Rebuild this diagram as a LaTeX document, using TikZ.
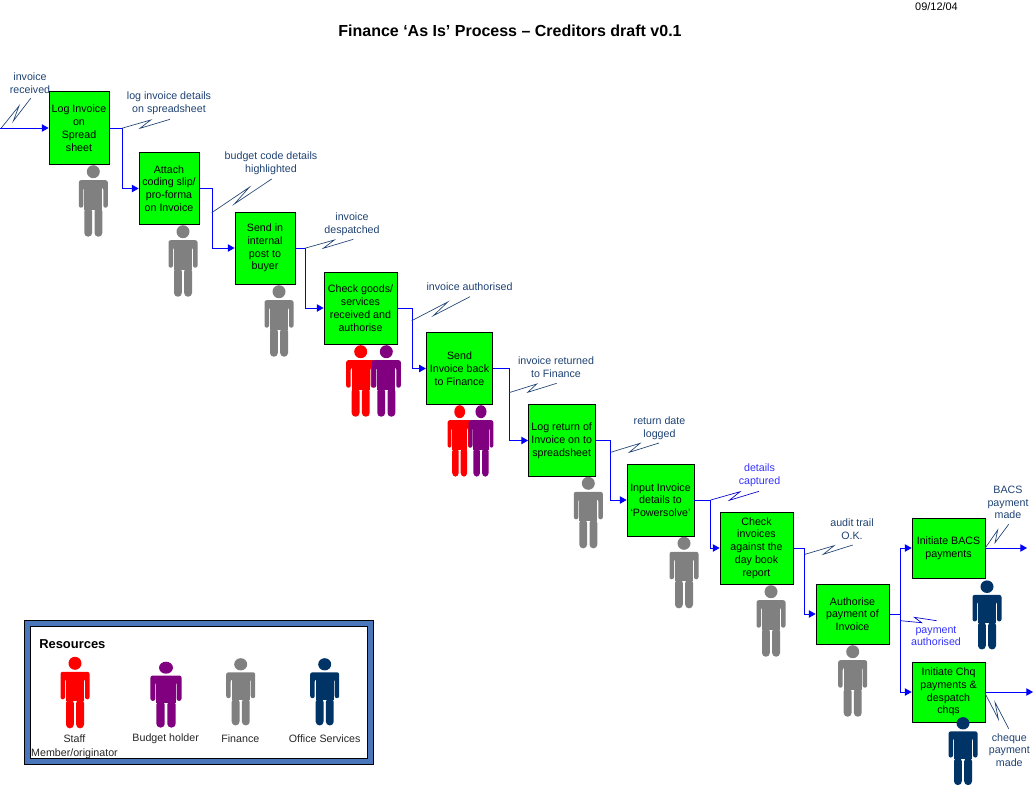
\documentclass[tikz,border=0pt]{standalone}
\usepackage{fontspec}
\setmainfont{Liberation Sans}
\usetikzlibrary{arrows.meta}
\definecolor{boxgreen}{HTML}{00FF00}
\definecolor{flowblue}{HTML}{0000FF}
\definecolor{labnavy}{HTML}{1F4273}
\definecolor{labblue}{HTML}{3333FF}
\definecolor{navyfig}{HTML}{003366}
\definecolor{purplefig}{HTML}{800080}
\definecolor{greyfig}{HTML}{808080}
\definecolor{framefill}{HTML}{4A76BC}
\tikzset{
  stepbox/.style n args={2}{draw=black,line width=.6pt,fill=boxgreen,inner sep=0pt,align=center,
     font=\fontsize{8}{9.6}\selectfont,text=black,minimum width=#1*.75pt,minimum height=#2*.75pt},
  conn/.style={draw=flowblue,line width=.65pt,-{Triangle[length=5pt,width=5.5pt]}},
  bolt/.style={draw=labnavy,line width=.5pt},
  boltb/.style={draw=flowblue!80!black,line width=.5pt},
  lab/.style={inner sep=0pt,align=center,text=labnavy,font=\fontsize{8}{9.6}\selectfont},
  labb/.style={lab,text=labblue},
  leg/.style={inner sep=0pt,align=center,text=black!85,font=\fontsize{8}{10.2}\selectfont},
  pics/person/.style={code={
    \fill[#1] (0,0) circle[radius=6.5];
    \fill[#1,rounded corners=1.6pt] (-14.5,36) -- (-14.5,8.5) -- (14.5,8.5) -- (14.5,36) -- (10,36) -- (10,16) -- (-10,16) -- (-10,36) -- cycle;
    \fill[#1] (-9,15) rectangle (9,38);
    \fill[#1,rounded corners=2.8pt] (-9,36) -- (-9,65) -- (-1.2,65) -- (-1.2,36) -- cycle;
    \fill[#1,rounded corners=2.8pt] (1.2,36) -- (1.2,65) -- (9,65) -- (9,36) -- cycle;
  }}
}
\begin{document}
\begin{tikzpicture}[x=.75pt,y=-.75pt]
\useasboundingbox (0,0) rectangle (1034,786);
% title
\node[inner sep=0pt,font=\bfseries\fontsize{12}{14}\selectfont] (title) at (510,31) {Finance ‘As Is’ Process – Creditors draft v0.1};
\node[inner sep=0pt,font=\fontsize{8.2}{10}\selectfont] (date) at (936.5,7) {09/12/04};
% legend frame
\node[draw=black,line width=.75pt,fill=framefill,inner sep=0pt,minimum width=348.7*.75pt,minimum height=144.4*.75pt] (outer) at (198.65,692.5) {};
\node[draw=black,line width=.7pt,fill=white,inner sep=0pt,minimum width=336.7*.75pt,minimum height=132.7*.75pt] (inner) at (198.65,692.35) {};
\node[anchor=west,inner sep=0pt,font=\bfseries\fontsize{9.7}{11}\selectfont] (restitle) at (39,644) {Resources};
% boxes
\node[stepbox={60}{72.5}] (b1) at (79,128) {Log Invoice\\on\\Spread\\sheet};
\node[stepbox={60}{72}] (b2) at (169,188.5) {Attach\\coding slip/\\pro-forma\\on Invoice};
\node[stepbox={60}{72}] (b3) at (265,248) {Send in\\internal\\post to\\buyer};
\node[stepbox={73}{72}] (b4) at (360.5,308) {Check goods/\\services\\received and\\authorise};
\node[stepbox={66.5}{72}] (b5) at (459.5,368.5) {Send\\Invoice back\\to Finance};
\node[stepbox={66.5}{72}] (b6) at (561.7,440.5) {Log return of\\Invoice on to\\spreadsheet};
\node[stepbox={67}{72}] (b7) at (660.5,500) {Input Invoice\\details to\\‘Powersolve’};
\node[stepbox={73}{72}] (b8) at (756.5,548) {Check\\invoices\\against the\\day book\\report};
\node[stepbox={73}{60}] (b9) at (852.5,614) {Authorise\\payment of\\Invoice};
\node[stepbox={73}{60}] (b10) at (948.5,548) {Initiate BACS\\payments};
\node[stepbox={73}{60}] (b11) at (948.5,692) {Initiate Chq\\payments \&\\despatch\\chqs};
% free ends
\coordinate (in) at (0,128);
\coordinate (outa) at (1027,548);
\coordinate (outb) at (1033,692);
% connectors
\draw[conn] (in) -- (b1.west);
\draw[conn] (b1.east) -- ++(12.7,0) |- (b2.west);
\draw[conn] (b2.east) -- ++(12.7,0) |- (b3.west);
\draw[conn] (b3.east) -- ++(9.7,0) |- (b4.west);
\draw[conn] (b4.east) -- ++(14.7,0) |- (b5.west);
\draw[conn] (b5.east) -- ++(16,0) |- (b6.west);
\draw[conn] (b6.east) -- ++(15.3,0) |- (b7.west);
\draw[conn] (b7.east) -- ++(16.3,0) |- (b8.west);
\draw[conn] (b8.east) -- ++(11.3,0) |- (b9.west);
\draw[conn] (b9.east) -- ++(11.3,0) |- (b10.west);
\draw[conn] (b9.east) -- ++(11.3,0) |- (b11.west);
\draw[conn] (b10.east) -- (outa);
\draw[conn] (b11.east) -- (outb);
% bolts
\draw[bolt] (1,128.3) -- (19,106) -- (13.3,121) -- (30.7,98.3);
\draw[bolt] (121.7,128.3) -- (150.7,120) -- (140,128.3) -- (170,119.3);
\draw[bolt] (211.7,212.7) -- (249.3,187.3) -- (234.3,204) -- (271.7,179);
\draw[bolt] (304.7,248.3) -- (334.3,240) -- (323.3,248.3) -- (353.3,239.3);
\draw[bolt] (411.7,320.7) -- (447.7,302) -- (433.3,315.7) -- (470,296.7);
\draw[bolt] (509,392.7) -- (536.7,384) -- (527.7,392.3) -- (556.7,383.3);
\draw[bolt] (610.7,452.3) -- (640,443.3) -- (629.3,452.3) -- (659,443);
\draw[boltb] (710.7,500) -- (740,491.7) -- (729.3,500.3) -- (759,491.3);
\draw[bolt] (805,554.3) -- (834,545.7) -- (823.3,554.3) -- (852.7,545);
\draw[boltb] (900.7,620.7) -- (921.7,622.7) -- (914.3,617.3) -- (936.7,620.7);
\draw[bolt] (985,548.3) -- (997.7,530) -- (995,542.7) -- (1008.7,524.3);
\draw[bolt] (985,693.3) -- (998.3,719) -- (995,702.3) -- (1008.7,728.7);
% labels
\node[lab] (l0) at (30,82.8) {invoice\\received};
\node[lab] (l1) at (169,103) {log invoice details\\on spreadsheet};
\node[lab] (l2) at (271,163) {budget code details\\highlighted};
\node[lab] (l3) at (352,224) {invoice\\despatched};
\node[lab] (l4) at (469.5,286.7) {invoice authorised};
\node[lab] (l5) at (556,367.5) {invoice returned\\to Finance};
\node[lab] (l6) at (659.5,428) {return date\\logged};
\node[labb] (l7) at (759.5,475.5) {details\\captured};
\node[lab] (l8) at (852,529.5) {audit trail\\O.K.};
\node[lab] (l9) at (1008,502.5) {BACS\\payment\\made};
\node[labb] (l10) at (936,636) {payment\\authorised};
\node[lab] (l11) at (1009.3,750) {cheque\\payment\\made};
% people
\pic at (93.3,171.7) {person=greyfig};
\pic at (183,231.7) {person=greyfig};
\pic at (279,291.7) {person=greyfig};
\pic at (360.7,351.7) {person=red};
\pic at (386.3,351.7) {person=purplefig};
\pic[xscale=.83] at (459.7,411.7) {person=red};
\pic[xscale=.85] at (481,411.7) {person=purplefig};
\pic at (588.3,483.3) {person=greyfig};
\pic at (684,543.3) {person=greyfig};
\pic at (771,591.7) {person=greyfig};
\pic at (852.7,651.7) {person=greyfig};
\pic[yscale=.965] at (987,586.7) {person=navyfig};
\pic[yscale=.95] at (963,723.3) {person=navyfig};
% legend
\pic at (75,663.3) {person=red};
\pic[xscale=1.07,yscale=.92] at (166,667.7) {person=purplefig};
\pic[yscale=.94] at (240.7,664.3) {person=greyfig};
\pic[yscale=.94] at (324.7,664.3) {person=navyfig};
\node[leg] (t1) at (74.5,746.5) {Staff\\Member/originator};
\node[leg] (t2) at (165.7,739) {Budget holder};
\node[leg] (t3) at (240.3,738.5) {Finance};
\node[leg] (t4) at (324.7,739) {Office Services};
\end{tikzpicture}
\end{document}
